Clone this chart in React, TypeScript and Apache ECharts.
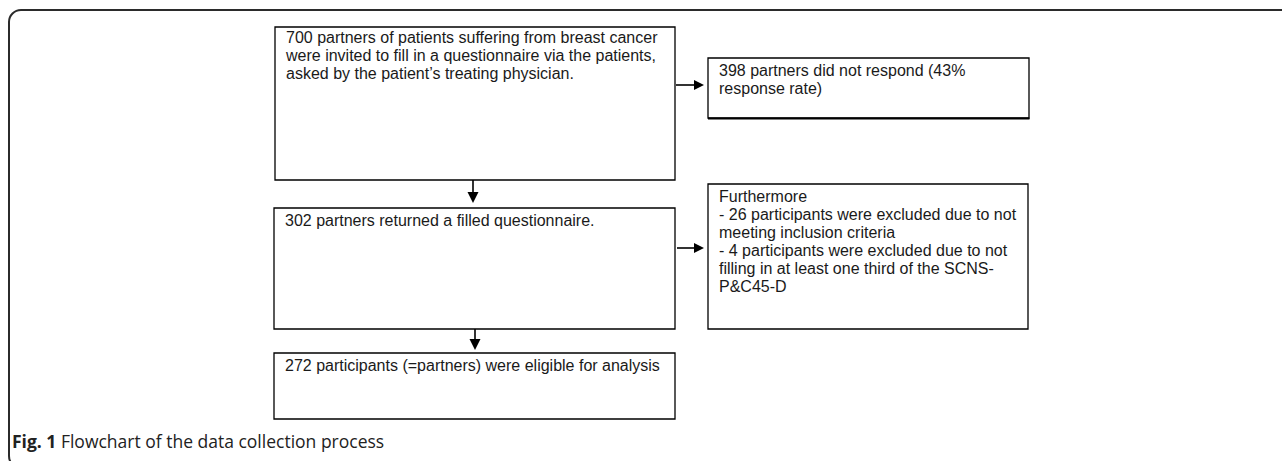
import React, { useEffect, useRef } from "react";
import * as echarts from "echarts";

// Flowchart content (texts and counts)
const invitedLines = [
  "700 partners of patients suffering from breast cancer",
  "were invited to fill in a questionnaire via the patients,",
  "asked by the patient\u2019s treating physician.",
];
const nonResponseLines = ["398 partners did not respond (43%", "response rate)"];
const returnedLines = ["302 partners returned a filled questionnaire."];
const excludedLines = [
  "Furthermore",
  "- 26 participants were excluded due to not",
  "meeting inclusion criteria",
  "- 4 participants were excluded due to not",
  "filling in at least one third of the SCNS-",
  "P&C45-D",
];
const eligibleLines = ["272 participants (=partners) were eligible for analysis"];
const captionBold = "Fig. 1";
const captionText = "Flowchart of the data collection process";

const W = 1282;
const H = 461;
const FONT = "'Liberation Sans', Arial, Helvetica, sans-serif";
const FS = 16;
const LH = 18;

function box(x: number, y: number, w: number, h: number, lines: string[], textOffset = 3, lw = 1.3) {
  return [
    {
      type: "rect",
      shape: { x, y, width: w, height: h },
      style: { fill: "#fff", stroke: "#000", lineWidth: lw },
    },
    {
      type: "text",
      x: x + 11,
      y: y + textOffset,
      style: {
        text: lines.join("\n"),
        fontFamily: FONT,
        fontSize: FS,
        lineHeight: LH,
        fill: "#1a1a1a",
        align: "left",
        verticalAlign: "top",
      },
    },
  ];
}

function arrowRight(x1: number, x2: number, y: number) {
  return [
    { type: "line", shape: { x1, y1: y, x2: x2 - 8, y2: y }, style: { stroke: "#000", lineWidth: 1.6 } },
    {
      type: "polygon",
      shape: { points: [[x2 - 10, y - 5], [x2, y], [x2 - 10, y + 5]] },
      style: { fill: "#000" },
    },
  ];
}

function arrowDown(x: number, y1: number, y2: number) {
  return [
    { type: "line", shape: { x1: x, y1, x2: x, y2: y2 - 8 }, style: { stroke: "#000", lineWidth: 1.6 } },
    {
      type: "polygon",
      shape: { points: [[x - 5.5, y2 - 11], [x, y2], [x + 5.5, y2 - 11]] },
      style: { fill: "#000" },
    },
  ];
}

export default function App() {
  const ref = useRef<HTMLDivElement>(null);
  useEffect(() => {
    if (!ref.current) return;
    const chart = echarts.init(ref.current, undefined, { renderer: "svg", width: W, height: H });
    const elements: any[] = [
      {
        type: "rect",
        shape: { x: 9, y: 10, width: 1300, height: 458, r: 12 },
        style: { fill: "none", stroke: "#2b2b2b", lineWidth: 2 },
      },
      ...arrowDown(473, 173, 203),
      ...arrowDown(475, 323, 350),
      ...box(275, 27, 400, 153, invitedLines, 1),
      ...box(708, 58, 321, 60, nonResponseLines),
      {
        type: "line",
        shape: { x1: 708, y1: 118.5, x2: 1029.5, y2: 118.5 },
        style: { stroke: "#000", lineWidth: 2.2 },
      },
      ...box(274, 208, 401, 121, returnedLines),
      ...box(708, 184, 320, 145, excludedLines),
      ...box(274, 353, 401, 66, eligibleLines),
      ...arrowRight(676, 704, 85),
      ...arrowRight(677, 704, 248),
      {
        type: "text",
        x: 12,
        y: 441,
        style: {
          text: `{b|${captionBold}} ${captionText}`,
          fontFamily: "'Open Sans', sans-serif",
          fontSize: 17.5,
          fill: "#222",
          verticalAlign: "middle",
          rich: {
            b: { fontFamily: "'Open Sans', sans-serif", fontSize: 17.5, fontWeight: "bold", fill: "#222" },
          },
        },
      },
    ];
    chart.setOption({ animation: false, graphic: { elements } });
    return () => chart.dispose();
  }, []);
  return (
    <div
      ref={ref}
      style={{ position: "fixed", left: 0, top: 0, width: W, height: H, background: "#fff" }}
    />
  );
}
